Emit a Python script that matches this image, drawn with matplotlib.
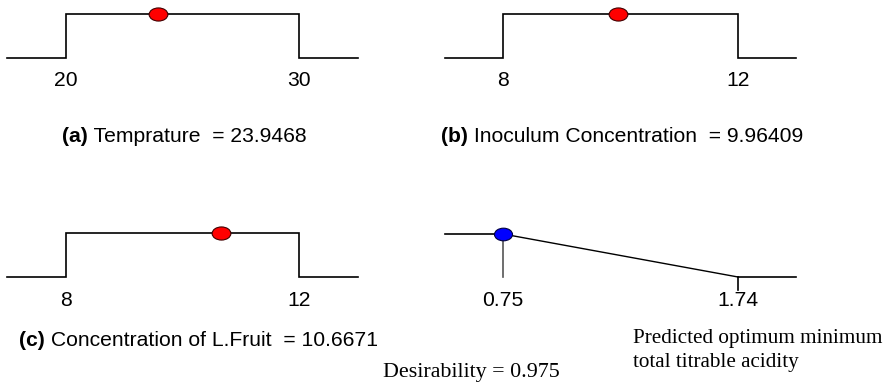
import matplotlib
matplotlib.use("Agg")
import matplotlib.pyplot as plt
from matplotlib.path import Path
from matplotlib.transforms import Affine2D

W, H = 886, 383
DPI = 100

# ---- data ----
factor_names = ["Temprature", "Inoculum Concentration", "Concentration of L.Fruit"]
factor_tags = ["(a)", "(b)", "(c)"]
factor_low = [20, 8, 8]
factor_high = [30, 12, 12]
factor_opt = [23.9468, 9.96409, 10.6671]
factor_opt_text = ["23.9468", "9.96409", "10.6671"]

response_low = 0.75
response_high = 1.74
response_pred = 0.75
response_desir = 1.0
desirability_text = "Desirability = 0.975"
response_title = ["Predicted optimum minimum", "total titrable acidity"]

SANS = "Liberation Sans"
SERIF = "Liberation Serif"
FS = 15.2

fig = plt.figure(figsize=(W / DPI, H / DPI), dpi=DPI)
fig.patch.set_facecolor("white")


def add_ax(left, right, top, bottom):
    return fig.add_axes([left / W, 1 - bottom / H, (right - left) / W, (bottom - top) / H])


def fx(x):
    return x / W


def fy(y):
    return 1 - y / H


ellipse = Path.unit_circle().transformed(Affine2D().scale(1.0, 0.7))

# panel geometry in pixels: (left, right, top, bottom, step_left, step_right)
geoms = [
    (7, 358, 14, 58, 66, 299),
    (445, 796, 14, 58, 503, 738),
    (7, 358, 233, 277, 66, 299),
]
caption_pos = [(62, 142), (441, 142), (19, 346)]
label_y = [80, 80, 300]

for i in range(3):
    left, right, top, bottom, sl, sr = geoms[i]
    ax = add_ax(left, right, top, bottom)
    lo, hi = factor_low[i], factor_high[i]
    scale = (hi - lo) / (sr - sl)
    xmin = lo - (sl - left) * scale
    xmax = hi + (right - sr) * scale
    ax.set_xlim(xmin, xmax)
    ax.set_ylim(0, 1)
    ax.axis("off")
    ax.plot([xmin, lo, lo, hi, hi, xmax], [0, 0, 1, 1, 0, 0], color="black", lw=1.2,
            clip_on=False, solid_joinstyle="miter")
    ax.plot([factor_opt[i]], [1], marker=ellipse, markersize=13.5, color="red",
            markeredgecolor="#400000", markeredgewidth=0.8, clip_on=False, zorder=5)
    for v in (lo, hi):
        xd = ax.transData.transform((v, 0))[0]
        fig.text(xd / W, fy(label_y[i]), str(v), ha="center", va="center",
                 fontsize=FS, family=SANS)
    cx, cy = caption_pos[i]
    t = fig.text(fx(cx), fy(cy), factor_tags[i], ha="left", va="baseline",
                 fontsize=FS, family=SANS, fontweight="bold")
    fig.canvas.draw()
    bb = t.get_window_extent()
    fig.text(bb.x1 / W, fy(cy), " " + factor_names[i] + "  = " + factor_opt_text[i],
             ha="left", va="baseline", fontsize=FS, family=SANS)

# response panel
left, right, top, bottom, sl, sr = 445, 796, 234, 277, 503, 738
ax = add_ax(left, right, top, bottom)
lo, hi = response_low, response_high
scale = (hi - lo) / (sr - sl)
xmin = lo - (sl - left) * scale
xmax = hi + (right - sr) * scale
ax.set_xlim(xmin, xmax)
ax.set_ylim(0, 1)
ax.axis("off")
ax.plot([xmin, lo], [1, 1], color="black", lw=1.2, clip_on=False)
ax.plot([lo, hi], [1, 0], color="black", lw=1.0, clip_on=False)
ax.plot([hi, xmax], [0, 0], color="black", lw=1.2, clip_on=False)
ax.plot([lo, lo], [1, 0], color="#555555", lw=1.2, clip_on=False)
ax.plot([hi, hi], [0, -0.3], color="black", lw=1.2, clip_on=False)
ax.plot([response_pred], [response_desir], marker=ellipse, markersize=13, color="blue",
        markeredgecolor="#000040", markeredgewidth=0.8, clip_on=False, zorder=5)
for v in (lo, hi):
    xd = ax.transData.transform((v, 0))[0]
    fig.text(xd / W, fy(300), f"{v:.2f}", ha="center", va="center", fontsize=FS, family=SANS)

fig.text(fx(633), fy(343), response_title[0], ha="left", va="baseline", fontsize=15.2, family=SERIF)
fig.text(fx(633), fy(367), response_title[1], ha="left", va="baseline", fontsize=15.2, family=SERIF)
fig.text(fx(383), fy(377), desirability_text, ha="left", va="baseline", fontsize=15.8, family=SERIF)

fig.savefig("out.png", dpi=DPI, facecolor="white")
